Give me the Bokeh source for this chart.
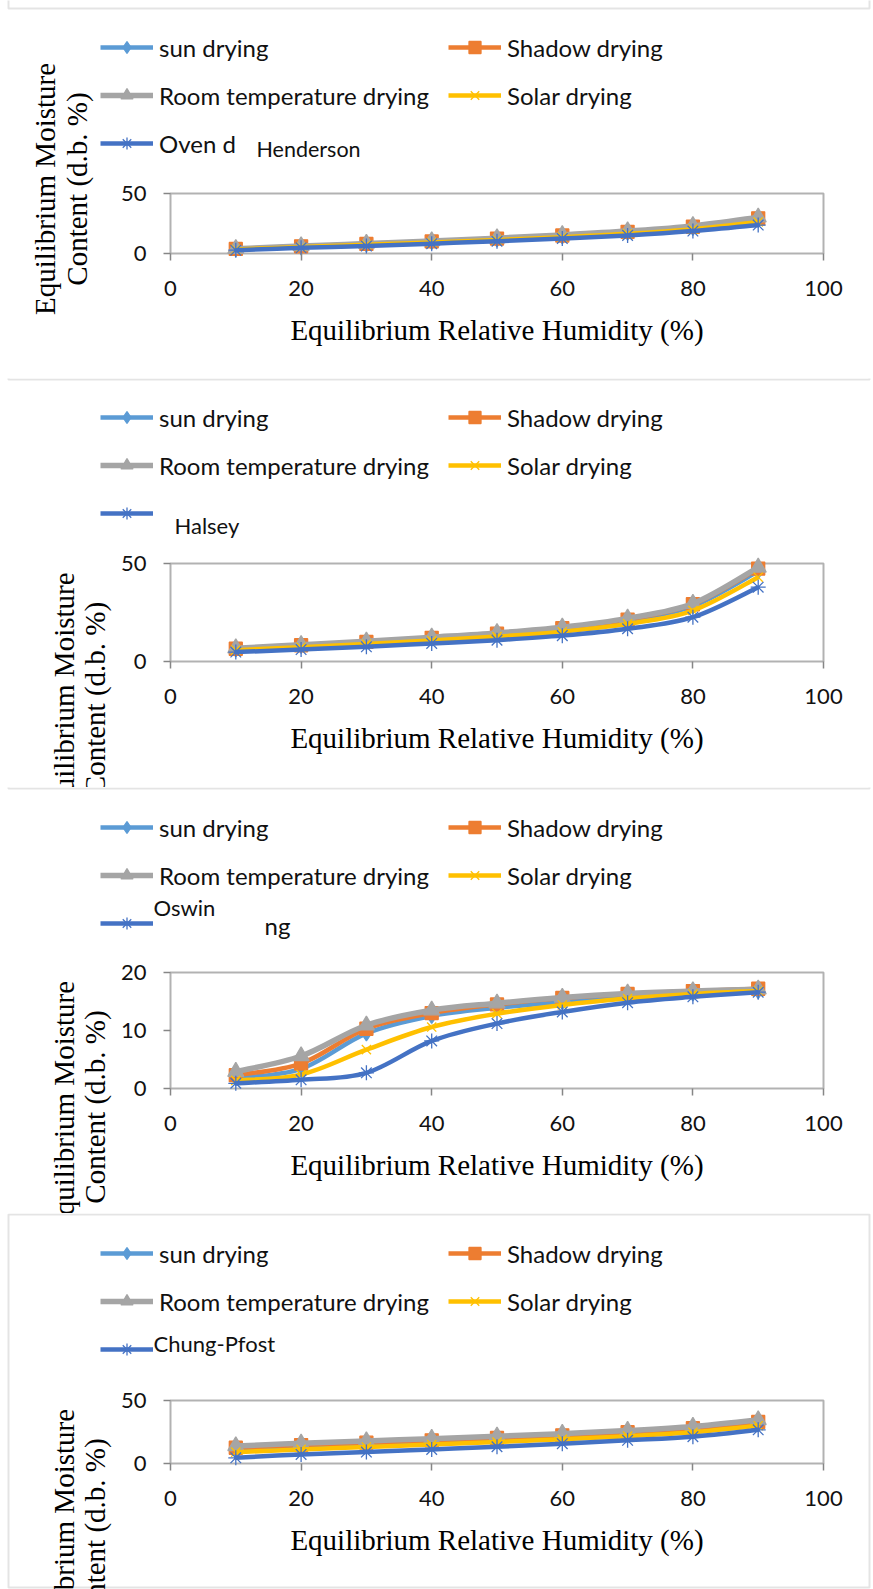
import numpy as np
from bokeh.plotting import figure
from bokeh.models import (Range1d, FixedTicker, Legend, LegendItem, Label,
                          PolyAnnotation, BoxAnnotation)
from bokeh.layouts import column
from bokeh.embed import file_html
from bokeh.resources import INLINE

# ---------------- data ----------------
rh = [10, 20, 30, 40, 50, 60, 70, 80, 90]
x_ticks = [0, 20, 40, 60, 80, 100]
y_ticks_50 = [0, 50]
y_ticks_20 = [0, 10, 20]
series_names = ["sun drying", "Shadow drying", "Room temperature drying",
                "Solar drying", "Oven drying"]
model_names = ["Henderson", "Halsey", "Oswin", "Chung-Pfost"]
x_title = "Equilibrium Relative Humidity (%)"
y_title_1 = "Equilibrium Moisture"
y_title_2 = "Content (d.b. %)"

henderson_sun = [3.6, 5.7, 7.6, 9.6, 11.8, 14.3, 17.3, 21.3, 28.0]
henderson_shadow = [3.8, 6.0, 8.0, 10.1, 12.4, 15.0, 18.1, 22.3, 29.3]
henderson_room = [4.0, 6.2, 8.3, 10.4, 12.8, 15.5, 18.7, 23.0, 30.2]
henderson_solar = [3.4, 5.4, 7.2, 9.1, 11.2, 13.6, 16.4, 20.3, 26.3]
henderson_oven = [2.8, 4.7, 6.2, 8.2, 10.2, 12.5, 15.1, 18.7, 23.7]

halsey_sun = [6.2, 8.0, 9.7, 11.7, 13.8, 16.5, 20.8, 28.2, 46.0]
halsey_shadow = [6.5, 8.3, 10.0, 12.1, 14.2, 17.0, 21.4, 29.2, 47.4]
halsey_room = [6.8, 8.5, 10.3, 12.4, 14.6, 17.5, 22.0, 29.5, 48.0]
halsey_solar = [5.8, 7.3, 8.9, 10.7, 12.7, 15.2, 19.2, 26.0, 43.0]
halsey_oven = [4.8, 6.1, 7.5, 9.2, 10.9, 13.2, 16.7, 22.6, 37.9]

oswin_sun = [1.8, 3.4, 9.5, 12.5, 13.9, 14.9, 15.8, 16.4, 16.8]
oswin_shadow = [2.3, 4.3, 10.3, 13.0, 14.5, 15.6, 16.3, 16.8, 17.2]
oswin_room = [2.9, 5.6, 10.9, 13.5, 14.7, 15.7, 16.4, 16.8, 17.1]
oswin_solar = [1.4, 2.4, 6.7, 10.6, 12.9, 14.4, 15.5, 16.3, 16.8]
oswin_oven = [0.9, 1.5, 2.7, 8.2, 11.2, 13.2, 14.8, 15.8, 16.6]

chung_sun = [11.0, 13.0, 14.9, 16.8, 18.7, 20.8, 23.2, 26.3, 31.5]
chung_shadow = [12.5, 14.6, 16.5, 18.4, 20.3, 22.4, 24.8, 28.0, 33.0]
chung_room = [13.9, 16.0, 17.9, 19.7, 21.6, 23.7, 26.1, 29.3, 34.5]
chung_solar = [9.0, 11.2, 13.1, 15.0, 17.0, 19.2, 21.7, 24.8, 30.0]
chung_oven = [4.5, 7.2, 9.1, 11.2, 13.3, 15.7, 18.4, 21.3, 26.7]

# ---------------- styles / layout ----------------
COLORS = ["#5B9BD5", "#ED7D31", "#A5A5A5", "#FFC000", "#4472C4"]
MARKERS = ["diamond", "square", "triangle", "x", "asterisk"]
SIZES = [15, 13, 16, 13, 15]
LINE_W = [4.5, 4.5, 5.5, 4.5, 4.5]
W = 873
BOX_L, BOX_R = 170, 823          # plot box left/right (px)
LEG_ROW, LEG_SP = 30, 18
LEG_H = 3 * LEG_ROW + 2 * LEG_SP
SANS = "Lato"
SERIF = "Liberation Serif"
BORDER = "#A6A6A6"
AXIS_GRAY = "#868686"
TXT = "#111111"
NOTE_PAD = 20


def smooth_ctrl(xs, ys, t=1.0 / 6.0):
    x = np.asarray(xs, float)
    y = np.asarray(ys, float)
    xp = np.concatenate([[x[0]], x, [x[-1]]])
    yp = np.concatenate([[y[0]], y, [y[-1]]])
    return dict(x0=x[:-1], y0=y[:-1], x1=x[1:], y1=y[1:],
                cx0=x[:-1] + (xp[2:-1] - xp[:-3]) * t,
                cy0=y[:-1] + (yp[2:-1] - yp[:-3]) * t,
                cx1=x[1:] - (xp[3:] - xp[1:-2]) * t,
                cy1=y[1:] - (yp[3:] - yp[1:-2]) * t)


def make_panel(H, box_top, box_bottom, ymax, yticks, series, oven_label,
               title_cy, title_x1, title_x2, legend_top, border_top,
               border_bottom, notes):
    kx = (BOX_R - BOX_L) / 100.0
    ky = (box_bottom - box_top) / float(ymax)
    p = figure(width=W, height=H, output_backend="svg", toolbar_location=None,
               x_range=Range1d(-BOX_L / kx, (W - BOX_L) / kx),
               y_range=Range1d(-(H - box_bottom) / ky, box_bottom / ky),
               min_border_left=0, min_border_right=0,
               min_border_top=0, min_border_bottom=0)
    p.background_fill_color = "white"
    p.border_fill_color = "white"
    p.outline_line_color = None
    p.grid.visible = False

    xa, ya = p.xaxis[0], p.yaxis[0]
    xa.ticker = FixedTicker(ticks=x_ticks)
    ya.ticker = FixedTicker(ticks=yticks)
    xa.fixed_location = 0
    ya.fixed_location = 0
    xa.bounds = (x_ticks[0], x_ticks[-1])
    ya.bounds = (yticks[0], yticks[-1])
    for ax in (xa, ya):
        ax.axis_line_color = None
        ax.major_tick_line_color = AXIS_GRAY
        ax.major_tick_line_width = 1.5
        ax.major_tick_out = 0
        ax.major_tick_in = -7
        ax.minor_tick_line_color = None
        ax.major_label_text_font_size = "1px"
        ax.major_label_text_color = None
        ax.major_label_standoff = 0

    items = []
    for i, ys in enumerate(series):
        src = smooth_ctrl(rh, ys)
        lr = p.bezier(x0="x0", y0="y0", x1="x1", y1="y1", cx0="cx0", cy0="cy0",
                      cx1="cx1", cy1="cy1", source=src,
                      line_color=COLORS[i], line_width=LINE_W[i])
        sr = p.scatter(rh, ys, marker=MARKERS[i], size=SIZES[i],
                       fill_color=COLORS[i], line_color=COLORS[i],
                       line_width=1.3)
        label = series_names[i] if i < 4 else oven_label
        items.append(LegendItem(label=label, renderers=[lr, sr]))

    legend = Legend(items=items, location=(100, H - (legend_top + LEG_H)),
                    orientation="horizontal", ncols=2,
                    glyph_width=53, glyph_height=LEG_ROW, label_standoff=6,
                    spacing=LEG_SP, padding=0, margin=0,
                    label_width=271, label_height=LEG_ROW,
                    border_line_color=None, background_fill_alpha=0,
                    label_text_font=SANS, label_text_font_size="24px",
                    label_text_color=TXT, label_text_baseline="middle")
    p.add_layout(legend)

    # plot-area box
    p.add_layout(BoxAnnotation(left=x_ticks[0], right=x_ticks[-1],
                               bottom=yticks[0], top=yticks[-1],
                               fill_color=None, fill_alpha=0,
                               line_color="black", line_width=2,
                               level="underlay"))

    # panel border (gray frame around each chart)
    bx0, bx1 = 8, W - 4
    by0, by1 = H - border_top, H - border_bottom
    p.add_layout(PolyAnnotation(xs=[bx0, bx1, bx1, bx0], ys=[by0, by0, by1, by1],
                                xs_units="screen", ys_units="screen",
                                fill_color=None, fill_alpha=0,
                                line_color=BORDER, line_width=2))

    # tick labels
    for v in yticks:
        p.add_layout(Label(x=BOX_L - 24, x_units="screen", y=v, y_units="data",
                           text=str(v), text_align="right", text_baseline="middle",
                           text_font=SANS, text_font_size="22px", text_color=TXT))
    for v in x_ticks:
        p.add_layout(Label(x=v, x_units="data", y=H - (box_bottom + 35), y_units="screen",
                           text=str(v), text_align="center", text_baseline="middle",
                           text_font=SANS, text_font_size="22px", text_color=TXT))

    # axis titles
    p.add_layout(Label(x=(BOX_L + BOX_R) / 2.0, y=H - (box_bottom + 76),
                       x_units="screen", y_units="screen", text=x_title,
                       text_align="center", text_baseline="middle",
                       text_font=SERIF, text_font_size="29px", text_color="black"))
    for txt, cx in ((y_title_1, title_x1), (y_title_2, title_x2)):
        p.add_layout(Label(x=cx, y=H - title_cy,
                           x_units="screen", y_units="screen", text=txt,
                           angle=90, angle_units="deg",
                           text_align="center", text_baseline="middle",
                           text_font=SERIF, text_font_size="29px",
                           text_color="black"))

    # model-name text boxes (white boxes, as in the source figure)
    for (txt, lx, cy, fs, boxed) in notes:
        kw = {}
        x = lx
        if boxed:
            x = lx - NOTE_PAD
            kw = dict(background_fill_color="white", background_fill_alpha=1.0,
                      padding=dict(left=NOTE_PAD, right=4, top=2, bottom=9))
        p.add_layout(Label(x=x, y=H - cy, x_units="screen", y_units="screen",
                           text=txt, text_align="left", text_baseline="middle",
                           text_font=SANS, text_font_size=fs, text_color=TXT,
                           level="overlay", **kw))
    return p


p1 = make_panel(378, 193, 253, 50, y_ticks_50,
                [henderson_sun, henderson_shadow, henderson_room, henderson_solar, henderson_oven],
                "Oven d", 188.5, 44, 76, 32, 8, -6,
                [(model_names[0], 256, 148, "21.5px", False)])
p2 = make_panel(409, 185, 283, 50, y_ticks_50,
                [halsey_sun, halsey_shadow, halsey_room, halsey_solar, halsey_oven],
                " ", 320, 63, 94, 24, 1, -6,
                [(model_names[1], 174, 147, "22px", False)])
p3 = make_panel(426, 185, 301, 20, y_ticks_20,
                [oswin_sun, oswin_shadow, oswin_room, oswin_solar, oswin_oven],
                " ", 319.5, 63, 94, 25, 1, -6,
                [(model_names[2], 153, 123, "22px", True), ("ng", 264, 138, "24px", False)])
p4 = make_panel(376, 187, 250, 50, y_ticks_50,
                [chung_sun, chung_shadow, chung_room, chung_solar, chung_oven],
                " ", 321.5, 63, 94, 25, 1, 374,
                [(model_names[3], 153, 133, "22px", True)])

layout = column(p1, p2, p3, p4, spacing=0)
open("out.html", "w").write(file_html(layout, INLINE))
